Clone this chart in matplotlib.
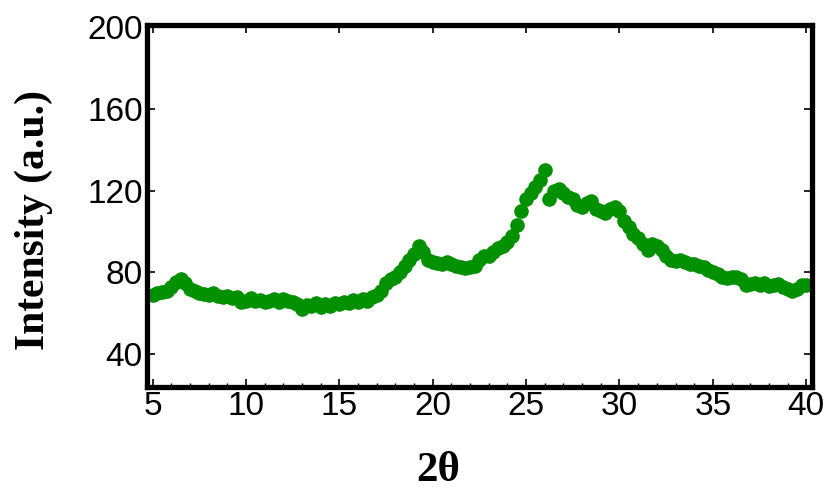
import numpy as np
import matplotlib
matplotlib.use('Agg')
from matplotlib import pyplot as plt
from matplotlib.ticker import MultipleLocator

# diffraction angle (2 theta) and intensity
two_theta = np.arange(5.0, 40.01, 0.25)
intensity = [
    69, 70, 70.5, 71, 73, 75.5, 77, 75, 72, 71,          # 5.00 - 7.25
    70, 69.5, 69, 70, 68.5, 68, 68.5, 67.5, 68, 65.5,    # 7.50 - 9.75
    66, 67.5, 66, 66.5, 65.5, 66, 67, 65.5, 67, 66,      # 10.00 - 12.25
    65.5, 64.5, 62, 64, 63.5, 65, 63, 64.5, 63.5, 65,    # 12.50 - 14.75
    64.5, 65.5, 65, 66.5, 65.5, 67, 66, 68, 69, 71,      # 15.00 - 17.25
    75, 77, 78, 80, 83, 86, 89, 93, 90, 86,              # 17.50 - 19.75
    85, 84.5, 84, 85, 84, 83, 82.5, 82, 82.5, 83,        # 20.00 - 22.25
    86, 88, 88, 90, 92, 93, 95, 98, 103, 110,            # 22.50 - 24.75
    116, 119, 122, 125, 130, 116, 120, 121, 119, 117,    # 25.00 - 27.25
    116, 113, 112, 114, 115, 111, 110, 109, 111, 112,    # 27.50 - 29.75
    110, 105, 102, 99, 97, 94, 91, 94, 93, 91,           # 30.00 - 32.25
    88, 86, 85.5, 86, 85, 84, 84, 83, 82.5, 81,          # 32.50 - 34.75
    80, 79, 78, 77.5, 78, 78, 77, 74, 74.5, 75,          # 35.00 - 37.25
    74, 75, 73.5, 74, 74.5, 73, 72, 71, 72, 74,          # 37.50 - 39.75
    74,                                                  # 40.00
]

x_ticks = [5, 10, 15, 20, 25, 30, 35, 40]
y_ticks = [40, 80, 120, 160, 200]


def main():
    """draw the XRD pattern"""
    fig = plt.figure(figsize=(8.28, 4.90), dpi=100)
    ax = fig.add_axes([0.1775, 0.2102, 0.803, 0.739])

    ax.plot(two_theta, intensity, 'o', color='#009000', markersize=10.5,
            markeredgewidth=0)

    ax.set_xlim(4.7, 40.3)
    ax.set_ylim(24, 201)
    ax.set_xticks(x_ticks)
    ax.set_yticks(y_ticks)
    ax.xaxis.set_minor_locator(MultipleLocator(1))

    # thick frame, inward ticks
    for spine in ax.spines.values():
        spine.set_linewidth(3.8)
    ax.tick_params(axis='both', which='major', direction='in', length=6,
                   width=1.2, top=True, right=True, labelsize=24, pad=3)
    ax.tick_params(axis='x', which='minor', direction='in', length=3,
                   width=1.0, top=False)
    for label in ax.get_xticklabels() + ax.get_yticklabels():
        label.set_family('Liberation Sans')

    ax.set_ylabel('Intensity (a.u.)', family='Liberation Serif',
                  fontweight='bold', fontsize=30)
    ax.yaxis.set_label_coords(-0.141, 0.46)
    ax.set_xlabel('2\u03b8', family='Liberation Serif', fontweight='bold',
                  fontsize=31)
    ax.xaxis.set_label_coords(0.4376, -0.18)

    plt.savefig('out.png', dpi=100)


if __name__ == '__main__':
    main()
